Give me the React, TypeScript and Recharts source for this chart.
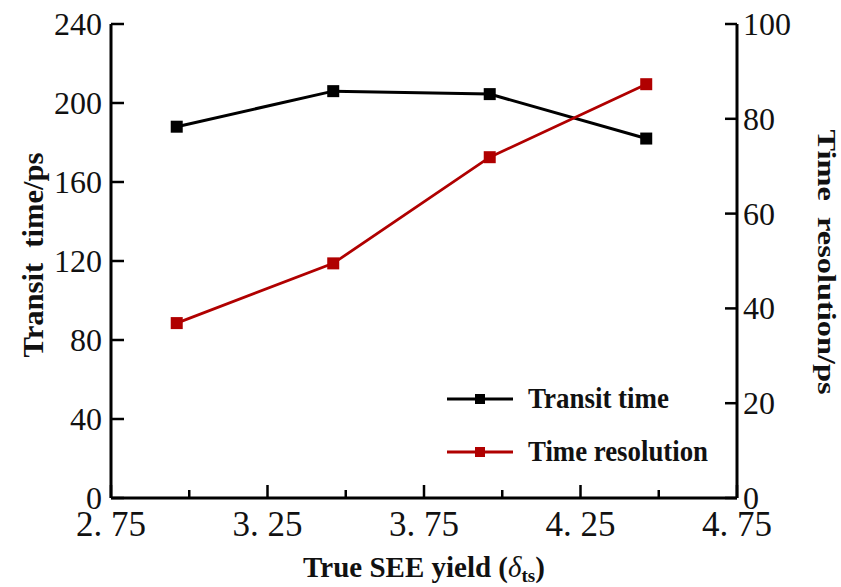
import { LineChart, Line, XAxis, YAxis, Legend } from 'recharts'

// True SEE yield values and the two measured series
const SEE_YIELD = [2.96, 3.46, 3.96, 4.46]
const TRANSIT_TIME = [188, 206, 204.5, 182]
const TIME_RESOLUTION = [36.9, 49.5, 71.9, 87.3]

const X_TICKS = [2.75, 3.0, 3.25, 3.5, 3.75, 4.0, 4.25, 4.5, 4.75]
const LEFT_TICKS = [0, 40, 80, 120, 160, 200, 240]
const RIGHT_TICKS = [0, 20, 40, 60, 80, 100]

const BLACK = '#000000'
const RED = '#b00000'
const SERIF = "'Liberation Serif', 'Times New Roman', serif"

const rows = SEE_YIELD.map((x, i) => ({
    x,
    transit: TRANSIT_TIME[i],
    resolution: TIME_RESOLUTION[i],
}))

const fmtX = (v: number) => v.toFixed(2).replace('.', '. ')

// Bottom axis: inward ticks, long for labelled values, short in between
const BottomTick = (props: any) => {
    const { x, y, payload, index } = props
    const major = index % 2 === 0
    return (
        <g>
            <line x1={x} x2={x} y1={y} y2={y - (major ? 13 : 8)} stroke={BLACK} strokeWidth={2.5} />
            {major && (
                <text x={x} y={y + 38} textAnchor="middle" fontFamily={SERIF} fontSize={35} fill="#111">
                    {fmtX(payload.value)}
                </text>
            )}
        </g>
    )
}

const TopTick = (props: any) => {
    const { x, y } = props
    return <line x1={x} x2={x} y1={y} y2={y + 7} stroke={BLACK} strokeWidth={2.5} />
}

const LeftTick = (props: any) => {
    const { x, y, payload } = props
    return (
        <g>
            <line x1={x} x2={x + 13} y1={y} y2={y} stroke={BLACK} strokeWidth={2.5} />
            <text x={x - 9} y={y} textAnchor="end" dominantBaseline="central" fontFamily={SERIF} fontSize={32} fill="#111">
                {payload.value}
            </text>
        </g>
    )
}

const RightTick = (props: any) => {
    const { x, y, payload } = props
    return (
        <g>
            <line x1={x} x2={x - 12} y1={y} y2={y} stroke={BLACK} strokeWidth={2.5} />
            <text x={x + 6} y={y} textAnchor="start" dominantBaseline="central" fontFamily={SERIF} fontSize={32} fill="#111">
                {payload.value}
            </text>
        </g>
    )
}

const squareDot = (color: string) => (props: any) => {
    const { cx, cy, index } = props
    if (cx == null || cy == null) return <g key={index} />
    return <rect key={index} x={cx - 6} y={cy - 6} width={12} height={12} fill={color} />
}

const XTitle = (props: any) => {
    const vb = props.viewBox
    return (
        <text
            x={vb.x + vb.width / 2}
            y={vb.y + 79}
            textAnchor="middle"
            fontFamily={SERIF}
            fontWeight="bold"
            fontSize={29}
            fill="#111"
        >
            True SEE yield (
            <tspan fontStyle="italic" fontWeight="normal">δ</tspan>
            <tspan fontSize={19} dy={5}>ts</tspan>
            <tspan dy={-5}>)</tspan>
        </text>
    )
}

const LeftTitle = (props: any) => {
    const vb = props.viewBox
    const cx = vb.x + 33
    const cy = vb.y + vb.height / 2 - 6
    return (
        <text
            x={cx}
            y={cy}
            transform={`rotate(-90 ${cx} ${cy})`}
            textAnchor="middle"
            dominantBaseline="central"
            fontFamily={SERIF}
            fontWeight="bold"
            fontSize={29}
            textLength={205}
            lengthAdjust="spacingAndGlyphs"
            fill="#111"
            style={{ whiteSpace: 'pre' }}
        >
            {'Transit  time/ps'}
        </text>
    )
}

const RightTitle = (props: any) => {
    const vb = props.viewBox
    const cx = vb.x + 89
    const cy = vb.y + vb.height / 2 + 1
    return (
        <text
            x={cx}
            y={cy}
            transform={`rotate(90 ${cx} ${cy})`}
            textAnchor="middle"
            dominantBaseline="central"
            fontFamily={SERIF}
            fontWeight="bold"
            fontSize={25}
            textLength={265}
            lengthAdjust="spacingAndGlyphs"
            fill="#111"
            style={{ whiteSpace: 'pre' }}
        >
            {'Time  resolution/ps'}
        </text>
    )
}

const LEGEND_ITEMS = [
    { name: 'Transit time', color: BLACK, width: 141 },
    { name: 'Time resolution', color: RED, width: 180 },
]

const renderLegend = () => (
    <svg width={290} height={100} style={{ overflow: 'visible' }}>
        {LEGEND_ITEMS.map((item, i) => {
            const y = 29 + i * 53
            return (
                <g key={item.name}>
                    <line x1={7} x2={73} y1={y} y2={y} stroke={item.color} strokeWidth={3} />
                    <rect x={35} y={y - 5} width={10} height={10} fill={item.color} />
                    <text
                        x={88}
                        y={y + 9}
                        fontFamily={SERIF}
                        fontWeight="bold"
                        fontSize={29}
                        textLength={item.width}
                        lengthAdjust="spacingAndGlyphs"
                        fill="#111"
                    >
                        {item.name}
                    </text>
                </g>
            )
        })}
    </svg>
)

export default function App() {
    return (
        <div style={{ position: 'absolute', left: 0, top: 0, width: 841, height: 587, background: '#fff' }}>
            <LineChart width={841} height={587} data={rows} margin={{ top: 24, right: 0, bottom: 0, left: 0 }}>
                <XAxis
                    xAxisId="bottom"
                    dataKey="x"
                    type="number"
                    domain={[2.75, 4.75]}
                    ticks={X_TICKS}
                    interval={0}
                    tickSize={0}
                    tickMargin={0}
                    tick={<BottomTick />}
                    tickLine={false}
                    axisLine={{ stroke: BLACK, strokeWidth: 3 }}
                    height={89}
                    label={<XTitle />}
                />
                <XAxis
                    xAxisId="top"
                    orientation="top"
                    dataKey="x"
                    type="number"
                    domain={[2.75, 4.75]}
                    ticks={X_TICKS}
                    interval={0}
                    tickSize={0}
                    tickMargin={0}
                    tick={<TopTick />}
                    tickLine={false}
                    axisLine={{ stroke: BLACK, strokeWidth: 3 }}
                    height={0}
                />
                <YAxis
                    yAxisId="left"
                    domain={[0, 240]}
                    ticks={LEFT_TICKS}
                    interval={0}
                    tickSize={0}
                    tickMargin={0}
                    tick={<LeftTick />}
                    tickLine={false}
                    axisLine={{ stroke: BLACK, strokeWidth: 3 }}
                    width={111}
                    label={<LeftTitle />}
                />
                <YAxis
                    yAxisId="right"
                    orientation="right"
                    domain={[0, 100]}
                    ticks={RIGHT_TICKS}
                    interval={0}
                    tickSize={0}
                    tickMargin={0}
                    tick={<RightTick />}
                    tickLine={false}
                    axisLine={{ stroke: BLACK, strokeWidth: 3 }}
                    width={104}
                    label={<RightTitle />}
                />
                <Line
                    xAxisId="bottom"
                    yAxisId="left"
                    dataKey="transit"
                    name="Transit time"
                    stroke={BLACK}
                    strokeWidth={3}
                    dot={squareDot(BLACK)}
                    activeDot={false}
                    isAnimationActive={false}
                />
                <Line
                    xAxisId="bottom"
                    yAxisId="right"
                    dataKey="resolution"
                    name="Time resolution"
                    stroke={RED}
                    strokeWidth={2.8}
                    dot={squareDot(RED)}
                    activeDot={false}
                    isAnimationActive={false}
                />
                <Legend
                    layout="horizontal"
                    verticalAlign="middle"
                    align="center"
                    content={renderLegend}
                    wrapperStyle={{ left: 440, top: 370, width: 290 }}
                />
            </LineChart>
        </div>
    )
}
